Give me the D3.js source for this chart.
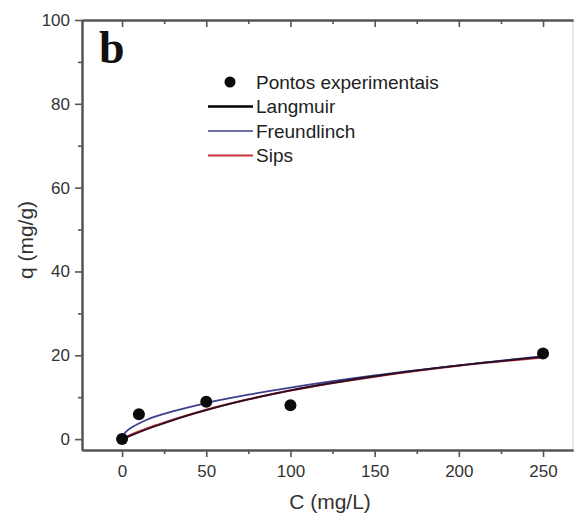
<!DOCTYPE html>
<html>
<head>
<meta charset="utf-8">
<script src="https://cdn.jsdelivr.net/npm/d3@7"></script>
<style>
  body { margin: 0; background: #fff; }
  svg { display: block; font-family: "Liberation Sans", Arial, sans-serif; }
</style>
</head>
<body>
<svg></svg>
<script>
let expC = [0, 10, 50, 100, 250]
let expQ = [0, 5.95, 8.9, 8.1, 20.4]

// fitted curves, sampled at these concentrations
let fitC = [0, 1, 2, 5, 10, 20, 30, 50, 75, 100, 150, 200, 250]
let langmuirQ = [0, 0.17, 0.34, 0.83, 1.63, 3.12, 4.49, 6.9, 9.46, 11.6, 15.0, 17.6, 19.6]
let freundlichQ = [0, 1.13, 1.62, 2.6, 3.73, 5.4, 6.6, 8.6, 10.6, 12.3, 15.2, 17.6, 19.8]
let sipsQ = [0, 0.22, 0.42, 0.95, 1.78, 3.28, 4.6, 7.0, 9.5, 11.6, 14.9, 17.5, 19.5]

let xMajor = [0, 50, 100, 150, 200, 250]
let xMinor = [25, 75, 125, 175, 225]
let yMajor = [0, 20, 40, 60, 80, 100]
let yMinor = [10, 30, 50, 70, 90]

let legendNames = ["Pontos experimentais", "Langmuir", "Freundlinch", "Sips"]

let width = 576
let height = 522
let plotLeft = 82, plotRight = 573, plotTop = 20, plotBottom = 450

let svg = d3.select("svg").attr("width", width).attr("height", height)

let xScale = d3.scaleLinear().domain([-23.8, 267.8]).range([plotLeft, plotRight])
let yScale = d3.scaleLinear().domain([-2.6, 100]).range([plotBottom, plotTop])

let axisColor = "#555"

let styleAxis = (g, showText) => {
  g.select(".domain").attr("stroke", axisColor).attr("stroke-width", 2)
  g.selectAll(".tick line").attr("stroke", axisColor).attr("stroke-width", 1.6)
  g.selectAll(".tick text").attr("fill", "#333").style("font-size", "17px")
  if (!showText) g.selectAll(".tick text").remove()
}

// faint right frame
svg.append("line")
   .attr("x1", plotRight).attr("x2", plotRight).attr("y1", plotTop).attr("y2", plotBottom)
   .attr("stroke", "#e2e2e2").attr("stroke-width", 1.5)

// bottom axis
svg.append("g").attr("transform", "translate(0," + plotBottom + ")")
   .call(d3.axisBottom(xScale).tickValues(xMajor).tickSize(7).tickPadding(8).tickSizeOuter(0))
   .call(g => styleAxis(g, true))
svg.append("g").attr("transform", "translate(0," + plotBottom + ")")
   .call(d3.axisBottom(xScale).tickValues(xMinor).tickSize(4).tickSizeOuter(0))
   .call(g => styleAxis(g, false))

// top axis, ticks pointing inside
svg.append("g").attr("transform", "translate(0," + plotTop + ")")
   .call(d3.axisTop(xScale).tickValues(xMajor).tickSize(-7).tickSizeOuter(0))
   .call(g => styleAxis(g, false))
svg.append("g").attr("transform", "translate(0," + plotTop + ")")
   .call(d3.axisTop(xScale).tickValues(xMinor).tickSize(-4).tickSizeOuter(0))
   .call(g => styleAxis(g, false))

// left axis
svg.append("g").attr("transform", "translate(" + plotLeft + ",0)")
   .call(d3.axisLeft(yScale).tickValues(yMajor).tickSize(7).tickPadding(5).tickSizeOuter(0))
   .call(g => styleAxis(g, true))
svg.append("g").attr("transform", "translate(" + plotLeft + ",0)")
   .call(d3.axisLeft(yScale).tickValues(yMinor).tickSize(4).tickSizeOuter(0))
   .call(g => styleAxis(g, false))

// axis titles
svg.append("text")
   .attr("x", 330).attr("y", 509)
   .attr("text-anchor", "middle")
   .attr("fill", "#333")
   .style("font-size", "21px")
   .text("C (mg/L)")
svg.append("text")
   .attr("transform", "translate(33,240) rotate(-90)")
   .attr("text-anchor", "middle")
   .attr("fill", "#333")
   .style("font-size", "21px")
   .text("q (mg/g)")

// panel letter
svg.append("text")
   .attr("x", 99).attr("y", 63)
   .attr("fill", "#111")
   .style("font-family", "'Liberation Serif', 'Times New Roman', serif")
   .style("font-weight", "bold")
   .style("font-size", "46px")
   .text("b")

// curves
let line = d3.line()
             .x(d => xScale(d[0]))
             .y(d => yScale(d[1]))
             .curve(d3.curveMonotoneX)

let curves = [
  { q: sipsQ, color: "#c8343a", w: 2.2 },
  { q: freundlichQ, color: "#3d3f8f", w: 1.8 },
  { q: langmuirQ, color: "#2a0f24", w: 1.8 }
]
curves.forEach(c => {
  svg.append("path")
     .datum(fitC.map((v, i) => [v, c.q[i]]))
     .attr("d", line)
     .attr("fill", "none")
     .attr("stroke", c.color)
     .attr("stroke-width", c.w)
})

// experimental points
svg.selectAll("circle.pt")
   .data(expC.map((v, i) => [v, expQ[i]]))
   .enter()
   .append("circle")
   .attr("class", "pt")
   .attr("cx", d => xScale(d[0]))
   .attr("cy", d => yScale(d[1]))
   .attr("r", 6)
   .attr("fill", "#0a0a0a")

// legend
let legendColors = ["#0a0a0a", "#000", "#3d3f8f", "#c8343a"]
let legendWidths = [0, 2.6, 1.4, 1.8]
let legend = svg.append("g")
legendNames.forEach((name, i) => {
  let y = 82 + i * 24.5
  if (i === 0) {
    legend.append("circle").attr("cx", 230).attr("cy", y).attr("r", 5.5).attr("fill", legendColors[i])
  } else {
    legend.append("line")
          .attr("x1", 208).attr("x2", 253).attr("y1", y).attr("y2", y)
          .attr("stroke", legendColors[i]).attr("stroke-width", legendWidths[i])
  }
  legend.append("text")
        .attr("x", 256).attr("y", y + 6.5)
        .attr("fill", "#222")
        .style("font-size", "19px")
        .text(name)
})
</script>
</body>
</html>
